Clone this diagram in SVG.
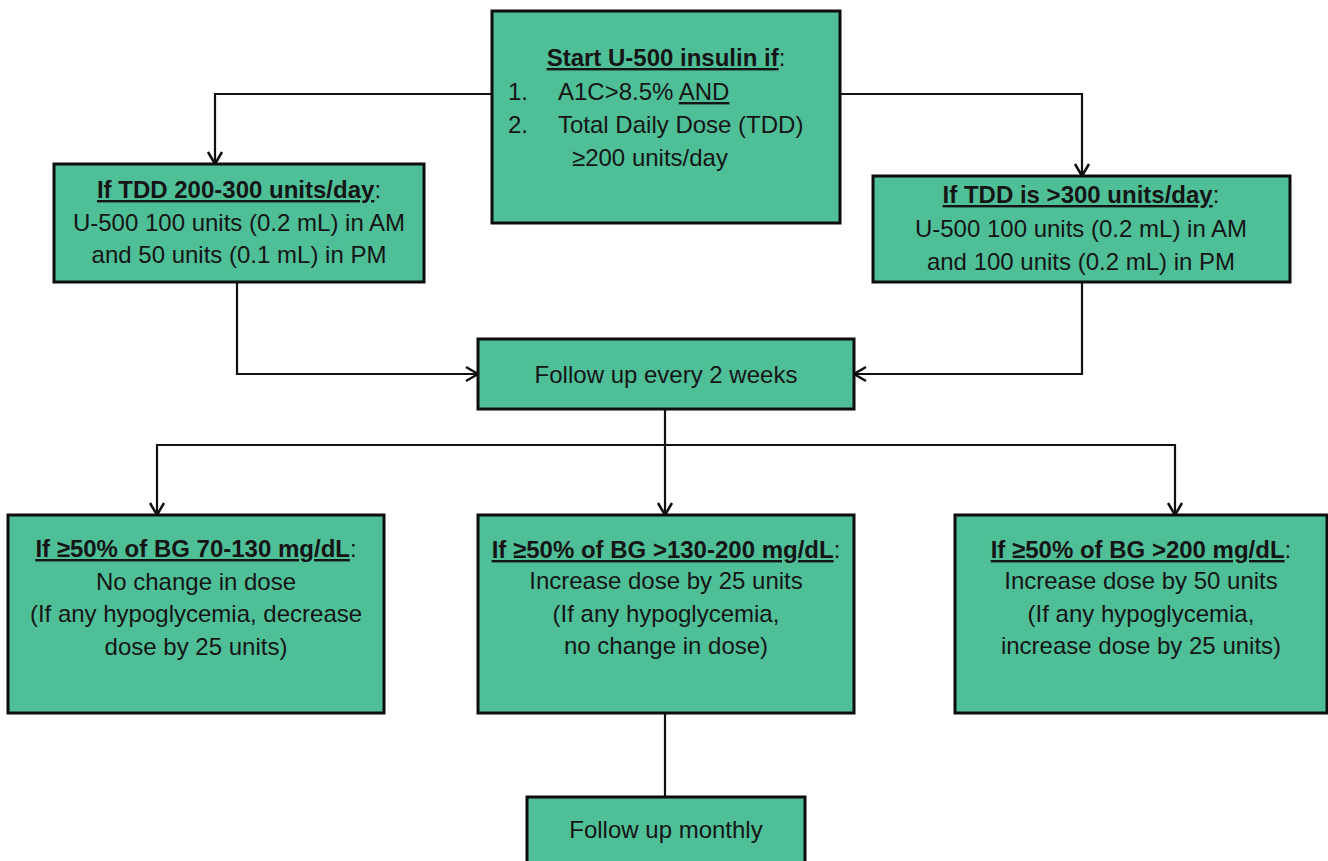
<svg xmlns="http://www.w3.org/2000/svg" width="1328" height="861" viewBox="0 0 1328 861">
<style>
  .box { fill: #4FBF98; stroke: #0d0d0d; stroke-width: 3; }
  .t { font-family: "Liberation Sans", Arial, sans-serif; font-size: 24px; fill: #151515; }
  .c { text-anchor: middle; }
  .b { font-weight: bold; text-decoration: underline; }
  .conn { fill: none; stroke: #111; stroke-width: 2.2; }
</style>
<defs>
  <marker id="arr" viewBox="-14 -9 16 18" refX="0" refY="0" markerWidth="16" markerHeight="18" markerUnits="userSpaceOnUse" orient="auto">
    <path d="M-12,-7 L0,0 L-12,7" fill="none" stroke="#111" stroke-width="2.5"/>
  </marker>
</defs>
<rect width="1328" height="861" fill="#ffffff"/>

<g id="connectors">
  <path class="conn" d="M492,94 H215 V164" marker-end="url(#arr)"/>
  <path class="conn" d="M840,94 H1082 V176" marker-end="url(#arr)"/>
  <path class="conn" d="M237,282 V374 H478" marker-end="url(#arr)"/>
  <path class="conn" d="M1082,282 V374 H854" marker-end="url(#arr)"/>
  <path class="conn" d="M665,409 V515" marker-end="url(#arr)"/>
  <path class="conn" d="M665,445 H157 V515" marker-end="url(#arr)"/>
  <path class="conn" d="M665,445 H1175 V515" marker-end="url(#arr)"/>
  <path class="conn" d="M665,713 V797"/>
</g>

<g id="node-start">
  <rect class="box" x="492" y="11" width="348" height="212"/>
  <text class="t c" x="666" y="66"><tspan class="b">Start U-500 insulin if</tspan>:</text>
  <text class="t" x="508" y="100">1.</text>
  <text class="t" x="558" y="100">A1C&gt;8.5% <tspan text-decoration="underline">AND</tspan></text>
  <text class="t" x="508" y="133">2.</text>
  <text class="t" x="558" y="133">Total Daily Dose (TDD)</text>
  <text class="t" x="572" y="166">≥200 units/day</text>
</g>

<g id="node-tdd-low">
  <rect class="box" x="54" y="164" width="370" height="118"/>
  <text class="t c" x="239" y="198"><tspan class="b">If TDD 200-300 units/day</tspan>:</text>
  <text class="t c" x="239" y="231">U-500 100 units (0.2 mL) in AM</text>
  <text class="t c" x="239" y="263">and 50 units (0.1 mL) in PM</text>
</g>

<g id="node-tdd-high">
  <rect class="box" x="873" y="176" width="417" height="106"/>
  <text class="t c" x="1081" y="203"><tspan class="b">If TDD is &gt;300 units/day</tspan>:</text>
  <text class="t c" x="1081" y="237">U-500 100 units (0.2 mL) in AM</text>
  <text class="t c" x="1081" y="270">and 100 units (0.2 mL) in PM</text>
</g>

<g id="node-followup-2wk">
  <rect class="box" x="478" y="339" width="376" height="70"/>
  <text class="t c" x="666" y="383">Follow up every 2 weeks</text>
</g>

<g id="node-bg-low">
  <rect class="box" x="8" y="515" width="376" height="198"/>
  <text class="t c" x="196" y="557"><tspan class="b">If ≥50% of BG 70-130 mg/dL</tspan>:</text>
  <text class="t c" x="196" y="590">No change in dose</text>
  <text class="t c" x="196" y="622">(If any hypoglycemia, decrease</text>
  <text class="t c" x="196" y="655">dose by 25 units)</text>
</g>

<g id="node-bg-mid">
  <rect class="box" x="478" y="515" width="376" height="198"/>
  <text class="t c" x="666" y="558"><tspan class="b">If ≥50% of BG &gt;130-200 mg/dL</tspan>:</text>
  <text class="t c" x="666" y="589">Increase dose by 25 units</text>
  <text class="t c" x="666" y="622">(If any hypoglycemia,</text>
  <text class="t c" x="666" y="654">no change in dose)</text>
</g>

<g id="node-bg-high">
  <rect class="box" x="955" y="515" width="372" height="198"/>
  <text class="t c" x="1141" y="558"><tspan class="b">If ≥50% of BG &gt;200 mg/dL</tspan>:</text>
  <text class="t c" x="1141" y="589">Increase dose by 50 units</text>
  <text class="t c" x="1141" y="622">(If any hypoglycemia,</text>
  <text class="t c" x="1141" y="654">increase dose by 25 units)</text>
</g>

<g id="node-followup-monthly">
  <rect class="box" x="527" y="797" width="278" height="80"/>
  <text class="t c" x="666" y="838">Follow up monthly</text>
</g>
</svg>
